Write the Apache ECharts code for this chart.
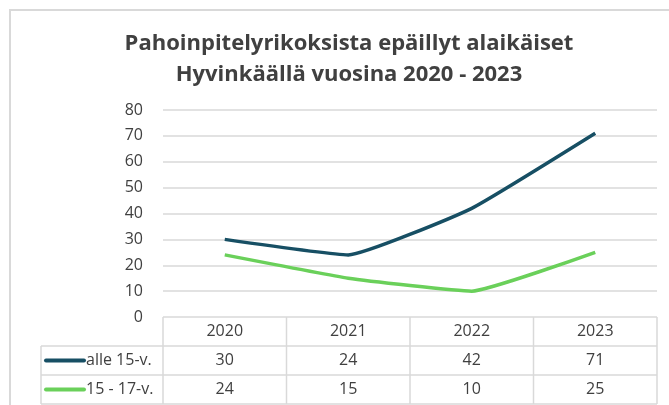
<!DOCTYPE html>
<html>
<head>
<meta charset="utf-8">
<script src="https://cdn.jsdelivr.net/npm/echarts@6/dist/echarts.min.js"></script>
<style>
  body { margin: 0; background: #fff; }
</style>
</head>
<body>
<div id="main" style="width:669px;height:405px;"></div>
<script type="text/javascript">
// data
var years = ['2020', '2021', '2022', '2023'];
var seriesNames = ['alle 15-v.', '15 - 17-v.'];
var under15 = [30, 24, 42, 71];
var age15to17 = [24, 15, 10, 25];
var colors = ['#174f64', '#6ad05a'];

var gridLeft = 163, gridRight = 12, gridTop = 110, gridBottom = 88;
var rowH = 29;
var tableLeft = 41;
var font = '"Open Sans", sans-serif';
var textColor = '#404040';
var lineColor = '#d9d9d9';

var myChart = echarts.init(document.getElementById('main'));

myChart.setOption({
    backgroundColor: '#fff',
    animation: false,
    title: {
        text: 'Pahoinpitelyrikoksista epäillyt alaikäiset\nHyvinkäällä vuosina 2020 - 2023',
        left: 344,
        top: 23,
        textAlign: 'center',
        textStyle: {
            fontFamily: font,
            fontSize: 22,
            fontWeight: 'bold',
            color: textColor,
            lineHeight: 31
        }
    },
    grid: { left: gridLeft, right: gridRight, top: gridTop, bottom: gridBottom },
    xAxis: {
        type: 'category',
        data: years,
        boundaryGap: true,
        axisLine: { show: false },
        axisTick: { show: false },
        axisLabel: { show: false }
    },
    yAxis: {
        type: 'value',
        min: 0,
        max: 80,
        interval: 10,
        axisLine: { show: false },
        axisTick: { show: false },
        axisLabel: { margin: 20, fontFamily: font, fontSize: 16, color: textColor },
        splitLine: { lineStyle: { color: lineColor, width: 1.5 } }
    },
    series: [
        {
            name: seriesNames[0], type: 'line', data: under15,
            smooth: 0.12, symbol: 'none',
            lineStyle: { color: colors[0], width: 3.5 }
        },
        {
            name: seriesNames[1], type: 'line', data: age15to17,
            smooth: 0.12, symbol: 'none',
            lineStyle: { color: colors[1], width: 3.5 }
        }
    ]
});

// data table under the plot, placed with the axis scale
var tableTop = myChart.convertToPixel({ yAxisIndex: 0 }, 0);
var rightX = 669 - gridRight;
var colW = (rightX - gridLeft) / years.length;
var rows = [under15, age15to17];
var g = [];

// outer frame of the chart
g.push({ type: 'rect', shape: { x: 10, y: 10, width: 700, height: 420 },
    style: { fill: null, stroke: lineColor, lineWidth: 2 } });

function hline(x1, x2, y) {
    g.push({ type: 'line', shape: { x1: x1, y1: y, x2: x2, y2: y },
        style: { stroke: lineColor, lineWidth: 1.5 } });
}
function vline(x, y1, y2) {
    g.push({ type: 'line', shape: { x1: x, y1: y1, x2: x, y2: y2 },
        style: { stroke: lineColor, lineWidth: 1.5 } });
}

var yEnd = tableTop + rowH * 3;
hline(tableLeft, rightX, tableTop + rowH);
hline(tableLeft, rightX, tableTop + rowH * 2);
hline(tableLeft, rightX, yEnd);
vline(tableLeft, tableTop + rowH, yEnd);
for (var c = 0; c <= years.length; c++) {
    vline(gridLeft + c * colW, tableTop, yEnd);
}

years.forEach(function (yr, i) {
    var cx = myChart.convertToPixel({ xAxisIndex: 0 }, yr);
    g.push({ type: 'text', x: cx, y: tableTop + rowH / 2,
        style: { text: yr, font: '16px ' + font, fill: textColor, align: 'center', verticalAlign: 'middle' } });
    rows.forEach(function (r, k) {
        g.push({ type: 'text', x: cx, y: tableTop + rowH * (k + 1.5),
            style: { text: String(r[i]), font: '16px ' + font, fill: textColor, align: 'center', verticalAlign: 'middle' } });
    });
});

seriesNames.forEach(function (name, k) {
    var cy = tableTop + rowH * (k + 1.5);
    g.push({ type: 'line', shape: { x1: 46, y1: cy, x2: 84, y2: cy },
        style: { stroke: colors[k], lineWidth: 4, lineCap: 'round' } });
    g.push({ type: 'text', x: 86, y: cy,
        style: { text: name, font: '16px ' + font, fill: textColor, align: 'left', verticalAlign: 'middle' } });
});

myChart.setOption({ graphic: g });
</script>
</body>
</html>
